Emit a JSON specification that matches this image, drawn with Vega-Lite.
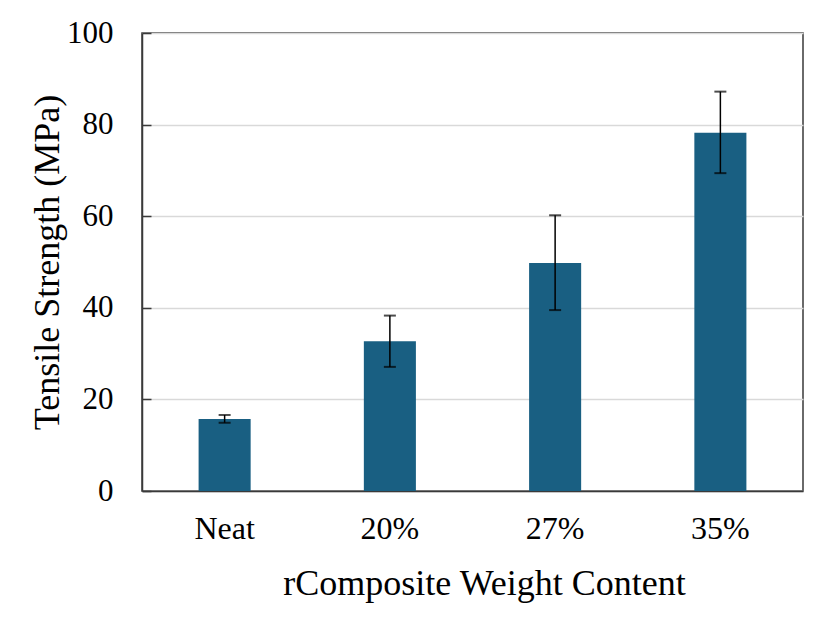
{
  "$schema": "https://vega.github.io/schema/vega-lite/v6.json",
  "width": 661,
  "height": 458,
  "autosize": {"type": "none"},
  "padding": {"left": 142, "top": 33, "right": 30, "bottom": 143},
  "background": "white",
  "config": {
    "font": "Liberation Serif",
    "view": {"stroke": "#3a3a3a", "strokeWidth": 1.5}
  },
  "data": {
    "values": [
      {"content": "Neat", "strength": 15.7, "lo": 14.9, "hi": 16.6},
      {"content": "20%", "strength": 32.7, "lo": 27.1, "hi": 38.3},
      {"content": "27%", "strength": 49.8, "lo": 39.5, "hi": 60.2},
      {"content": "35%", "strength": 78.2, "lo": 69.4, "hi": 87.2}
    ]
  },
  "encoding": {
    "x": {
      "field": "content",
      "type": "nominal",
      "sort": null,
      "scale": {"paddingInner": 0.685, "paddingOuter": 0.3425},
      "axis": {
        "title": "rComposite Weight Content",
        "labelAngle": 0,
        "labelFont": "Liberation Serif",
        "labelFontSize": 32,
        "labelColor": "#000000",
        "labelPadding": 22,
        "ticks": false,
        "domainColor": "#3a3a3a",
        "domainWidth": 1.5,
        "titleFont": "Liberation Serif",
        "titleFontSize": 36,
        "titleFontWeight": "normal",
        "titleColor": "#000000",
        "titlePadding": 22,
        "titleX": 342
      }
    }
  },
  "layer": [
    {
      "mark": {"type": "bar", "color": "#195f82"},
      "encoding": {
        "y": {
          "field": "strength",
          "type": "quantitative",
          "scale": {"domain": [0, 100]},
          "axis": {
            "title": "Tensile Strength (MPa)",
            "values": [0, 20, 40, 60, 80, 100],
            "labelFont": "Liberation Serif",
            "labelFontSize": 31,
            "labelColor": "#000000",
            "tickSize": -9,
            "tickColor": "#3a3a3a",
            "tickWidth": 1.5,
            "labelPadding": 38,
            "domainColor": "#3a3a3a",
            "domainWidth": 1.5,
            "gridColor": "#d9d9d9",
            "gridWidth": 1.5,
            "titleFont": "Liberation Serif",
            "titleFontSize": 36,
            "titleFontWeight": "normal",
            "titleColor": "#000000",
            "titlePadding": 0
          }
        }
      }
    },
    {
      "mark": {"type": "rule", "color": "#000000", "strokeWidth": 1.5},
      "encoding": {
        "y": {"field": "lo", "type": "quantitative"},
        "y2": {"field": "hi"}
      }
    },
    {
      "mark": {"type": "tick", "color": "#000000", "size": 12, "thickness": 2},
      "encoding": {
        "y": {"field": "lo", "type": "quantitative"}
      }
    },
    {
      "mark": {"type": "tick", "color": "#000000", "size": 12, "thickness": 2},
      "encoding": {
        "y": {"field": "hi", "type": "quantitative"}
      }
    }
  ]
}
